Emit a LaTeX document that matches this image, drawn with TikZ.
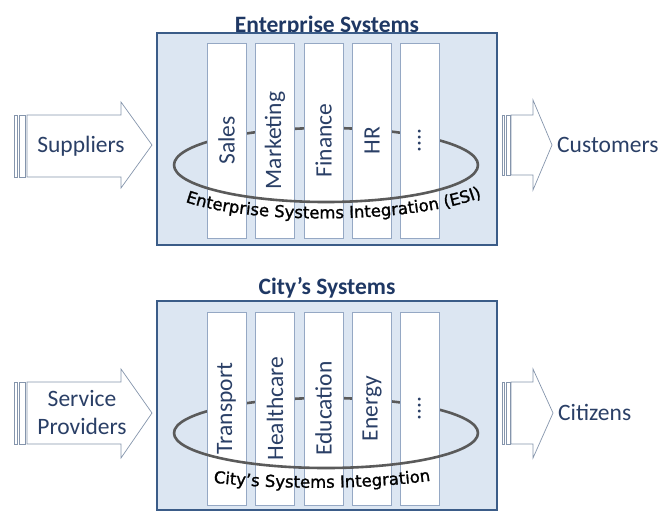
\documentclass[tikz,border=0pt]{standalone}
\usepackage{fontspec}
\setmainfont{Carlito}
\newfontfamily\esifont[FakeBold=1.2]{DejaVu Sans}
\usetikzlibrary{decorations.text}
\definecolor{boxfill}{HTML}{DCE6F2}
\definecolor{boxline}{HTML}{3B5C88}
\definecolor{colline}{HTML}{95A8C4}
\definecolor{txtblue}{HTML}{2A3F66}
\definecolor{titleblue}{HTML}{1F3864}
\definecolor{ringgray}{HTML}{5A5A5A}
\definecolor{arrline}{HTML}{8595AC}
\begin{document}
\begin{tikzpicture}[x=1pt,y=-1pt,
  sysbox/.style={draw=boxline, fill=boxfill, line width=1.8pt},
  colbox/.style={draw=colline, fill=white, line width=0.8pt, rotate=90,
    minimum height=39pt, inner sep=0pt, text=txtblue,
    font=\fontsize{23.5}{27}\selectfont},
  ring/.style={draw=ringgray, line width=2.6pt},
  arr/.style={draw=arrline, fill=white, line width=0.7pt, line join=miter},
  arrtext/.style={text=txtblue, inner sep=0pt, font=\fontsize{23.5}{28}\selectfont},
  titletext/.style={text=titleblue, inner sep=0pt, font=\bfseries\fontsize{23.5}{28}\selectfont},
  esitext/.style={decorate, decoration={text along path, text align=center, text color=#1,
    text={|\esifont\fontsize{16.5}{19}\selectfont|Enterprise Systems Integration (ESI)}}},
  citytext/.style={decorate, decoration={text along path, text align=center, text color=#1,
    text={|\esifont\fontsize{16.5}{19}\selectfont|City’s Systems Integration}}}
]
\useasboundingbox (0,0) rectangle (660,512);

% ================= Enterprise =================
\node[titletext, anchor=base] (t1) at (327,32) {Enterprise Systems};
\draw[sysbox] (157,33) rectangle (497,245);
\coordinate (e1) at (326,165);
\draw[ring] (e1) ++(0:152pt and 37pt) arc[start angle=0, end angle=180, x radius=152pt, y radius=37pt];
\node[colbox, minimum width=195pt] (sales) at (226.5,140.5) {Sales};
\node[colbox, minimum width=195pt] (mkt) at (275,140.5) {Marketing};
\node[colbox, minimum width=195pt] (fin) at (323.5,140.5) {Finance};
\node[colbox, minimum width=195pt] (hr) at (372,140.5) {HR};
\node[colbox, minimum width=195pt] (dots1) at (419.5,140.5) {{.}\kern0.3pt{.}\kern0.3pt{.}\kern0.3pt{.}};
\draw[ring] (e1) ++(180:152pt and 37pt) arc[start angle=180, end angle=360, x radius=152pt, y radius=37pt];
\coordinate (a1) at (176,198);
\coordinate (a2) at (235,226);
\coordinate (a3) at (425,226);
\coordinate (a4) at (491,193);
\path[esitext=black] (a1) .. controls (a2) and (a3) .. (a4);

% arrows
\draw[arr] (14,115) rectangle (17,177);
\draw[arr] (19,115) rectangle (25,177);
\draw[arr] (27,115) -- (121,115) -- (121,102) -- (152,145) -- (121,188) -- (121,177) -- (27,177) -- cycle;
\node[arrtext, anchor=base] (sup) at (81,152) {Suppliers};
\draw[arr] (502,115) rectangle (504.5,175);
\draw[arr] (506,115) rectangle (510,175);
\draw[arr] (511,115) -- (533,115) -- (533,100) -- (552,145) -- (533,190) -- (533,175) -- (511,175) -- cycle;
\node[arrtext, anchor=base west] (cus) at (557,152) {Customers};

% ================= City =================
\node[titletext, anchor=base] (t2) at (327,294) {City’s Systems};
\draw[sysbox] (157,301) rectangle (497,510);
\coordinate (e2) at (326,433);
\draw[ring] (e2) ++(0:152pt and 35pt) arc[start angle=0, end angle=180, x radius=152pt, y radius=35pt];
\node[colbox, minimum width=193pt] (tra) at (226.5,408.5) {Transport};
\node[colbox, minimum width=193pt] (hea) at (275,408.5) {Healthcare};
\node[colbox, minimum width=193pt] (edu) at (323.5,408.5) {Education};
\node[colbox, minimum width=193pt] (ene) at (372,408.5) {Energy};
\node[colbox, minimum width=193pt] (dots2) at (419.5,408.5) {{.}\kern0.3pt{.}\kern0.3pt{.}\kern0.3pt{.}};
\draw[ring] (e2) ++(180:152pt and 35pt) arc[start angle=180, end angle=360, x radius=152pt, y radius=35pt];
\coordinate (b1) at (208,482);
\coordinate (b2) at (270,490);
\coordinate (b3) at (370,490);
\coordinate (b4) at (436,480);
\path[citytext=black] (b1) .. controls (b2) and (b3) .. (b4);

\draw[arr] (14,382) rectangle (17,444);
\draw[arr] (19,382) rectangle (25,444);
\draw[arr] (27,382) -- (121,382) -- (121,369) -- (152,413) -- (121,458) -- (121,444) -- (27,444) -- cycle;
\node[arrtext, anchor=base] (srv) at (82,406) {Service};
\node[arrtext, anchor=base] (prv) at (82,434) {Providers};
\draw[arr] (502,382) rectangle (504.5,444);
\draw[arr] (506,382) rectangle (510,444);
\draw[arr] (511,382) -- (533,382) -- (533,369) -- (553,413) -- (533,458) -- (533,444) -- (511,444) -- cycle;
\node[arrtext, anchor=base west] (cit) at (558,420) {Citizens};
\end{tikzpicture}
\end{document}
